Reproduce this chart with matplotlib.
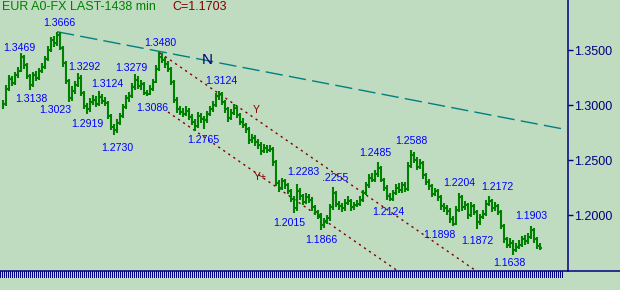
import matplotlib
matplotlib.use("Agg")
import matplotlib.pyplot as plt
from matplotlib.collections import LineCollection
from matplotlib.lines import Line2D
from matplotlib.colors import ListedColormap
import numpy as np

plt.rcParams['font.family'] = ['Liberation Sans', 'DejaVu Sans']
plt.rcParams['lines.scale_dashes'] = False

# ---------------- data ----------------
title_text = "EUR A0-FX LAST-1438 min"
last_close_text = "C=1.1703"

first_open = 1.2990
closes = [
    1.3010, 1.3150, 1.3240, 1.3200, 1.3275, 1.3310, 1.3440, 1.3360, 1.3260, 1.3180,
    1.3270, 1.3250, 1.3310, 1.3350, 1.3420, 1.3500, 1.3590, 1.3560, 1.3640, 1.3520,
    1.3380, 1.3220, 1.3060, 1.3130, 1.3180, 1.3250, 1.3110, 1.2990, 1.2960, 1.3030,
    1.3050, 1.3010, 1.3070, 1.3040, 1.3020, 1.2900, 1.2800, 1.2770, 1.2840, 1.2900,
    1.2980, 1.3060, 1.3080, 1.3160, 1.3230, 1.3170, 1.3190, 1.3110, 1.3100, 1.3150,
    1.3210, 1.3330, 1.3440, 1.3410, 1.3370, 1.3330, 1.3210, 1.3050, 1.2960, 1.2940,
    1.2920, 1.2950, 1.2890, 1.2850, 1.2810, 1.2900, 1.2870, 1.2860, 1.2920, 1.2960,
    1.3000, 1.3080, 1.3100, 1.3030, 1.2960, 1.2880, 1.2930, 1.2970, 1.2910, 1.2850,
    1.2820, 1.2780, 1.2680, 1.2700, 1.2660, 1.2640, 1.2580, 1.2610, 1.2590, 1.2600,
    1.2480, 1.2290, 1.2250, 1.2310, 1.2270, 1.2220, 1.2150, 1.2060, 1.2220, 1.2170,
    1.2120, 1.2160, 1.2140, 1.2070, 1.2030, 1.2000, 1.1910, 1.1940, 1.1970, 1.2070,
    1.2200, 1.2100, 1.2080, 1.2060, 1.2110, 1.2130, 1.2070, 1.2090, 1.2100, 1.2140,
    1.2200, 1.2270, 1.2340, 1.2320, 1.2370, 1.2430, 1.2320, 1.2250, 1.2170, 1.2150,
    1.2200, 1.2250, 1.2230, 1.2270, 1.2240, 1.2450, 1.2550, 1.2500, 1.2440, 1.2470,
    1.2360, 1.2300, 1.2260, 1.2190, 1.2220, 1.2160, 1.2080, 1.2060, 1.2040, 1.1960,
    1.1920, 1.2050, 1.2160, 1.2070, 1.2090, 1.2000, 1.2080, 1.2030, 1.1940, 1.1980,
    1.2010, 1.2100, 1.2130, 1.2060, 1.2080, 1.2030, 1.1900, 1.1780, 1.1730, 1.1750,
    1.1680, 1.1710, 1.1730, 1.1780, 1.1760, 1.1800, 1.1860, 1.1780, 1.1720, 1.1703,
]
highs = [
    1.3050, 1.3180, 1.3275, 1.3265, 1.3300, 1.3350, 1.3469, 1.3455, 1.3380, 1.3285,
    1.3300, 1.3310, 1.3340, 1.3385, 1.3450, 1.3535, 1.3620, 1.3630, 1.3666, 1.3660,
    1.3540, 1.3400, 1.3240, 1.3170, 1.3220, 1.3292, 1.3270, 1.3130, 1.3020, 1.3060,
    1.3090, 1.3080, 1.3124, 1.3100, 1.3075, 1.3040, 1.2920, 1.2830, 1.2870, 1.2930,
    1.3010, 1.3090, 1.3120, 1.3200, 1.3279, 1.3260, 1.3230, 1.3210, 1.3140, 1.3185,
    1.3240, 1.3360, 1.3480, 1.3470, 1.3440, 1.3400, 1.3350, 1.3230, 1.3070, 1.2990,
    1.2975, 1.2990, 1.2970, 1.2915, 1.2870, 1.2935, 1.2930, 1.2900, 1.2950, 1.2995,
    1.3040, 1.3110, 1.3124, 1.3115, 1.3050, 1.2980, 1.2960, 1.3010, 1.2990, 1.2930,
    1.2880, 1.2840, 1.2800, 1.2740, 1.2730, 1.2690, 1.2665, 1.2650, 1.2640, 1.2635,
    1.2620, 1.2500, 1.2320, 1.2340, 1.2330, 1.2290, 1.2240, 1.2170, 1.2283, 1.2250,
    1.2190, 1.2200, 1.2190, 1.2160, 1.2095, 1.2050, 1.2020, 1.1970, 1.2000, 1.2100,
    1.2255, 1.2220, 1.2130, 1.2110, 1.2150, 1.2170, 1.2150, 1.2120, 1.2140, 1.2170,
    1.2230, 1.2300, 1.2370, 1.2380, 1.2410, 1.2485, 1.2450, 1.2340, 1.2270, 1.2200,
    1.2230, 1.2280, 1.2290, 1.2300, 1.2300, 1.2480, 1.2588, 1.2575, 1.2530, 1.2510,
    1.2490, 1.2380, 1.2330, 1.2280, 1.2250, 1.2240, 1.2180, 1.2110, 1.2090, 1.2060,
    1.1990, 1.2080, 1.2204, 1.2180, 1.2130, 1.2110, 1.2120, 1.2100, 1.2050, 1.2010,
    1.2050, 1.2140, 1.2172, 1.2150, 1.2120, 1.2100, 1.2050, 1.1920, 1.1800, 1.1790,
    1.1770, 1.1745, 1.1770, 1.1810, 1.1820, 1.1840, 1.1903, 1.1880, 1.1800, 1.1750,
]
lows = [
    1.2960, 1.2995, 1.3130, 1.3175, 1.3180, 1.3250, 1.3300, 1.3330, 1.3235, 1.3138,
    1.3165, 1.3215, 1.3230, 1.3290, 1.3330, 1.3400, 1.3480, 1.3530, 1.3540, 1.3500,
    1.3350, 1.3190, 1.3023, 1.3040, 1.3100, 1.3160, 1.3080, 1.2960, 1.2919, 1.2940,
    1.3000, 1.2985, 1.2990, 1.3010, 1.2990, 1.2870, 1.2775, 1.2730, 1.2745, 1.2815,
    1.2880, 1.2960, 1.3030, 1.3060, 1.3140, 1.3150, 1.3140, 1.3095, 1.3086, 1.3090,
    1.3130, 1.3200, 1.3310, 1.3380, 1.3340, 1.3300, 1.3180, 1.3020, 1.2930, 1.2910,
    1.2890, 1.2900, 1.2860, 1.2820, 1.2765, 1.2790, 1.2840, 1.2780, 1.2840, 1.2900,
    1.2940, 1.2980, 1.3050, 1.3000, 1.2930, 1.2850, 1.2860, 1.2910, 1.2880, 1.2820,
    1.2790, 1.2750, 1.2650, 1.2655, 1.2630, 1.2600, 1.2550, 1.2560, 1.2560, 1.2570,
    1.2450, 1.2260, 1.2210, 1.2230, 1.2240, 1.2190, 1.2120, 1.2015, 1.2040, 1.2140,
    1.2090, 1.2100, 1.2110, 1.2040, 1.2000, 1.1960, 1.1866, 1.1880, 1.1915, 1.1950,
    1.2050, 1.2075, 1.2050, 1.2030, 1.2040, 1.2090, 1.2040, 1.2050, 1.2070, 1.2080,
    1.2120, 1.2180, 1.2250, 1.2300, 1.2300, 1.2350, 1.2300, 1.2220, 1.2140, 1.2124,
    1.2130, 1.2180, 1.2200, 1.2200, 1.2210, 1.2220, 1.2430, 1.2470, 1.2410, 1.2420,
    1.2330, 1.2270, 1.2230, 1.2160, 1.2170, 1.2130, 1.2050, 1.2030, 1.2000, 1.1930,
    1.1898, 1.1905, 1.2030, 1.2040, 1.2050, 1.1960, 1.1980, 1.2000, 1.1872, 1.1910,
    1.1960, 1.1990, 1.2080, 1.2030, 1.2040, 1.2000, 1.1870, 1.1750, 1.1700, 1.1700,
    1.1638, 1.1660, 1.1690, 1.1710, 1.1730, 1.1740, 1.1780, 1.1750, 1.1690, 1.1680,
]

# swing labels: bar index of the swing and the printed text
swing_bars = [18, 6, 9, 25, 22, 28, 32, 37, 44, 48, 52, 64, 72, 97, 98, 106,
              110, 125, 129, 136, 150, 152, 158, 162, 170, 176]
swing_labels = ["1.3666", "1.3469", "1.3138", "1.3292", "1.3023", "1.2919",
                "1.3124", "1.2730", "1.3279", "1.3086", "1.3480", "1.2765",
                "1.3124", "1.2015", "1.2283", "1.1866", ".2255", "1.2485",
                "1.2124", "1.2588", "1.1898", "1.2204", "1.1872", "1.2172",
                "1.1638", "1.1903"]
swing_prices = [1.3666, 1.3469, 1.3138, 1.3292, 1.3023, 1.2919, 1.3124, 1.2730,
                1.3279, 1.3086, 1.3480, 1.2765, 1.3124, 1.2015, 1.2283, 1.1866,
                1.2255, 1.2485, 1.2124, 1.2588, 1.1898, 1.2204, 1.1872, 1.2172,
                1.1638, 1.1903]

price_ticks = [1.35, 1.30, 1.25, 1.20]
price_tick_labels = ["1.3500", "1.3000", "1.2500", "1.2000"]

# trend lines (bar index, price)
line_n_bars = [18, 186.7]
line_n_prices = [1.3666, 1.2782]
line_y_bars = [52.33, 160.0]
line_y_prices = [1.3473, 1.1449]
line_yp_bars = [55.0, 135.0]
line_yp_prices = [1.2936, 1.1427]

# ---------------- layout / style ----------------
W, H = 620, 290
BG = "#C0DCC0"
NAVY = "#000080"
GREEN = "#008000"
DARKRED = "#800000"
TEAL = "#008080"
BLUE = "#0000FF"

# label offsets in pixels (dx, dy; dy positive = up)
label_offsets = [(2, 9), (-2, 5), (1, -9), (6, 6), (-14, -8), (0, -10),
                 (8, 7), (3, -13), (-4, 6), (5, -12), (1, 9), (8, -9),
                 (2, 10), (-5, -10), (6, 12), (0, -10), (2, 9), (-3, 9),
                 (-2, -11), (0, 9), (-14, -9), (0, 10), (0, -12), (8, 9),
                 (-4, -8), (0, 10)]

fig = plt.figure(figsize=(W / 100, H / 100), dpi=100, facecolor=BG)
plot_bottom_px = 271
ax = fig.add_axes([0, (H - plot_bottom_px) / H, 568 / W, plot_bottom_px / H])
ax.set_facecolor(BG)

# x: bar i at pixel 3 + 3 i ; y: 1.35 at pixel 50, 1100 px per unit
ax.set_xlim(-1, 188.333)
ax.set_ylim(1.35 - (plot_bottom_px - 50) / 1100, 1.35 + 50 / 1100)

n = len(closes)
opens = [first_open] + closes[:-1]

segs = []
for i in range(n):
    segs.append([(i, lows[i]), (i, highs[i])])
    segs.append([(i - 0.5, opens[i]), (i, opens[i])])
    segs.append([(i, closes[i]), (i + 0.5, closes[i])])
lc = LineCollection(segs, colors=GREEN, linewidths=1.5, capstyle='butt', zorder=3)
ax.add_collection(lc)

# trend line N
ax.plot(line_n_bars, line_n_prices, color=TEAL, lw=1.0,
        linestyle=(0, (12.5, 4.5)), zorder=2)
# channel lines
ax.plot(line_y_bars, line_y_prices, color=DARKRED, lw=1.0,
        linestyle=(0, (1.6, 2.8)), zorder=2)
ax.plot(line_yp_bars, line_yp_prices, color=DARKRED, lw=1.0,
        linestyle=(0, (1.6, 2.8)), zorder=2)

# line labels
ax.annotate("N", (68, np.interp(68, line_n_bars, line_n_prices)),
            xytext=(0, 1), textcoords='offset pixels', ha='center', va='center',
            color=NAVY, fontsize=11, zorder=4)
ax.annotate("Y", (84, np.interp(84, line_y_bars, line_y_prices)),
            xytext=(1, 8), textcoords='offset pixels', ha='center', va='center',
            color=DARKRED, fontsize=7.5, zorder=4)
ax.annotate("Y+", (85.67, np.interp(85.67, line_yp_bars, line_yp_prices)),
            xytext=(0, -1), textcoords='offset pixels', ha='center', va='center',
            color=DARKRED, fontsize=7.5, zorder=4)

# swing labels
for b, p, t, off in zip(swing_bars, swing_prices, swing_labels, label_offsets):
    ax.annotate(t, (b, p), xytext=off, textcoords='offset pixels',
                ha='center', va='center', color=BLUE, fontsize=7.6, zorder=5)

# axes styling
for s in ['left', 'top', 'bottom']:
    ax.spines[s].set_visible(False)
ax.spines['right'].set_color(NAVY)
ax.spines['right'].set_linewidth(1.1)
ax.set_xticks([])
ax.yaxis.tick_right()
ax.set_yticks(price_ticks)
ax.set_yticklabels(price_tick_labels)
ax.tick_params(axis='y', direction='out', length=3.6, width=1.0, color=NAVY,
               labelcolor=NAVY, labelsize=9, pad=1)

# bottom line across figure
yl = (H - plot_bottom_px) / H
fig.add_artist(Line2D([0, 1], [yl, yl], transform=fig.transFigure,
                      color=NAVY, lw=1.1))
# time-scale stripes (pixel pattern)
band_w, band_h = 563, 7
bax = fig.add_axes([0, (H - 278) / H, band_w / W, band_h / H])
bax.axis('off')
pattern = np.tile((np.arange(band_w) % 2 == 0).astype(float), (band_h, 1))
bax.imshow(pattern, cmap=ListedColormap([BG, NAVY]), interpolation='nearest',
           aspect='auto', extent=(0, band_w, 0, band_h))
bax.set_xlim(0, band_w)
bax.set_ylim(0, band_h)

# title
fig.text(2 / W, 1 - 1 / H, title_text, color=GREEN, fontsize=9,
         ha='left', va='top')
fig.text(172 / W, 1 - 1 / H, last_close_text, color=DARKRED, fontsize=9,
         ha='left', va='top')

fig.savefig("out.png", dpi=100, facecolor=BG)
